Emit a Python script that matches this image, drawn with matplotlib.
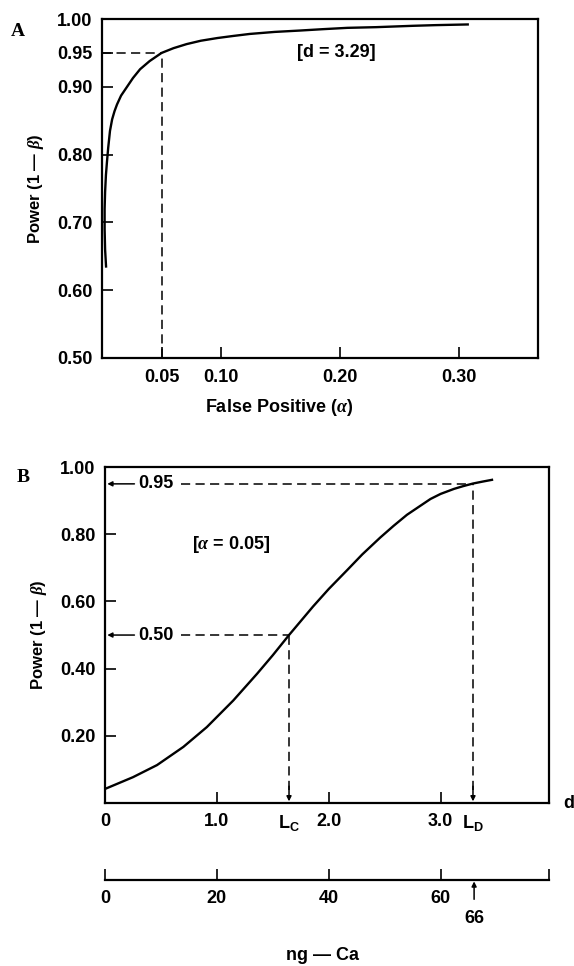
import numpy as np
import matplotlib
matplotlib.use('Agg')
import matplotlib.pyplot as plt

plt.rcParams['font.family'] = ['Liberation Sans', 'DejaVu Sans']
plt.rcParams['font.weight'] = 'bold'
plt.rcParams['axes.labelweight'] = 'bold'
plt.rcParams['font.size'] = 13
plt.rcParams['mathtext.fontset'] = 'custom'
plt.rcParams['mathtext.rm'] = 'Liberation Sans:bold'
plt.rcParams['mathtext.bf'] = 'Liberation Sans:bold'
plt.rcParams['mathtext.it'] = 'Liberation Serif:italic'

# panel A: power vs false positive rate, d = 3.29
alpha_a = [0.0034, 0.0026, 0.0022, 0.0022, 0.0026, 0.0033, 0.0042, 0.0052, 0.0067,
           0.0085, 0.0105, 0.0126, 0.016, 0.021, 0.026, 0.032, 0.040, 0.050, 0.060,
           0.071, 0.083, 0.097, 0.110, 0.124, 0.145, 0.166, 0.185, 0.206, 0.230,
           0.261, 0.280, 0.307]
power_a = [0.635, 0.66, 0.69, 0.72, 0.745, 0.77, 0.79, 0.81, 0.835,
           0.852, 0.864, 0.874, 0.887, 0.90, 0.913, 0.926, 0.938, 0.95, 0.957,
           0.963, 0.968, 0.972, 0.975, 0.978, 0.981, 0.983, 0.985, 0.987, 0.988,
           0.990, 0.991, 0.992]
xticks_a = [0.05, 0.10, 0.20, 0.30]
yticks_a = [0.50, 0.60, 0.70, 0.80, 0.90, 0.95, 1.00]
alpha_ref = 0.05
power_ref = 0.95

# panel B: power vs d, alpha = 0.05
d_b = [0, 0.25, 0.465, 0.70, 0.91, 1.146, 1.36, 1.50, 1.645, 1.86, 2.0, 2.17,
       2.30, 2.46, 2.58, 2.70, 2.91, 3.0, 3.12, 3.20, 3.29, 3.38, 3.46]
p_b = [0.042, 0.077, 0.113, 0.167, 0.226, 0.305, 0.385, 0.44, 0.50, 0.585, 0.637, 0.695,
       0.74, 0.79, 0.825, 0.858, 0.905, 0.92, 0.935, 0.943, 0.951, 0.957, 0.962]
Lc = 1.645
Ld = 3.29
yticks_b = [0.20, 0.40, 0.60, 0.80, 1.00]
xticks_b = [0, 1.0, Lc, 2.0, Ld, 3.0]
xlabels_b = ['0', '1.0', r'$\mathbf{L_C}$', '2.0', r'$\mathbf{L_D}$', '3.0']

# ng Ca scale (20 ng per unit d)
ng_ticks = [0, 20, 40, 60]
ng_mark = 66

fig = plt.figure(figsize=(5.74, 9.66), dpi=100)

dash = (0, (6, 3.5))

# ---------- A ----------
ax = fig.add_axes([0.1777, 0.6294, 0.7596, 0.3509])
ax.plot(alpha_a, power_a, color='k', lw=1.7)
ax.plot([0, alpha_ref], [power_ref, power_ref], color='k', lw=1.1, ls=dash)
ax.plot([alpha_ref, alpha_ref], [0.5, power_ref], color='k', lw=1.1, ls=dash)
ax.set_xlim(0, 0.366)
ax.set_ylim(0.5, 1.0)
ax.set_xticks(xticks_a)
ax.set_xticklabels(['%.2f' % v for v in xticks_a])
ax.set_yticks(yticks_a)
ax.set_yticklabels(['%.2f' % v for v in yticks_a])
ax.tick_params(direction='in', length=8, width=1.2)
ax.tick_params(axis='y', pad=7)
ax.tick_params(axis='x', pad=8)
for s in ax.spines.values():
    s.set_linewidth(1.6)
ax.text(0.164, 0.95, '[d = 3.29]', ha='left', va='center')
ax.set_ylabel(r'Power (1 — $\beta$)', labelpad=8, fontsize=12)
fig.text(279 / 574, 1 - 408 / 966, r'False Positive ($\alpha$)', ha='center', va='center')
fig.text(18 / 574, 1 - 32 / 966, 'A', family='Liberation Serif', weight='bold',
         size=14, ha='center', va='center')

# ---------- B ----------
bx = fig.add_axes([0.183, 0.1687, 0.7735, 0.3478])
bx.plot(d_b, p_b, color='k', lw=1.7)
bx.set_xlim(0, 3.97)
bx.set_ylim(0, 1.0)
bx.set_xticks(xticks_b)
bx.set_xticklabels(xlabels_b)
bx.set_yticks(yticks_b)
bx.set_yticklabels(['%.2f' % v for v in yticks_b])
bx.tick_params(direction='in', length=8, width=1.2)
bx.tick_params(axis='y', pad=7)
bx.tick_params(axis='x', pad=7)
for i, v in enumerate(xticks_b):
    if v in (Lc, Ld):
        bx.xaxis.get_major_ticks()[i].tick1line.set_visible(False)
for s in bx.spines.values():
    s.set_linewidth(1.6)

for lvl, xd in [(0.95, Ld), (0.50, Lc)]:
    bx.annotate('%.2f' % lvl, xy=(0.02, lvl), xytext=(0.30, lvl), va='center', ha='left',
                arrowprops=dict(arrowstyle='-|>', color='k', lw=1.1, mutation_scale=7,
                                shrinkA=1, shrinkB=0))
    bx.plot([0.68, xd], [lvl, lvl], color='k', lw=1.1, ls=dash)
    bx.plot([xd, xd], [0.04, lvl], color='k', lw=1.1, ls=dash)
    bx.annotate('', xy=(xd, 0.005), xytext=(xd, 0.05),
                arrowprops=dict(arrowstyle='-|>', color='k', lw=1.1, mutation_scale=7,
                                shrinkA=0, shrinkB=0))

bx.text(0.78, 0.77, r'[$\alpha$ = 0.05]', ha='left', va='center')
bx.text(4.10, 0.0, 'd', ha='left', va='center', clip_on=False)
bx.set_ylabel(r'Power (1 — $\beta$)', labelpad=8, fontsize=12)
fig.text(23 / 574, 1 - 478 / 966, 'B', family='Liberation Serif', weight='bold',
         size=14, ha='center', va='center')

# ---------- ng Ca scale ----------
cx = fig.add_axes([0.183, 0.089, 0.7735, 0.001])
cx.set_xlim(0, 3.97 * 20)
cx.set_ylim(0, 1)
cx.set_yticks([])
for k in ['left', 'right', 'top']:
    cx.spines[k].set_visible(False)
cx.spines['bottom'].set_linewidth(1.6)
cx.set_xticks(ng_ticks + [3.97 * 20])
cx.set_xticklabels([str(v) for v in ng_ticks] + [''])
cx.tick_params(axis='x', direction='in', length=8, width=1.2, pad=7)
cx.patch.set_visible(False)
cx.annotate(str(ng_mark), xy=(ng_mark, 0), xycoords=('data', 'axes fraction'),
            xytext=(0, -28), textcoords='offset points', ha='center', va='center',
            arrowprops=dict(arrowstyle='-|>', color='k', lw=1.1, mutation_scale=7,
                            shrinkA=6, shrinkB=1))
fig.text(323 / 574, 1 - 956 / 966, 'ng — Ca', ha='center', va='center')

fig.savefig('out.png', dpi=100)
